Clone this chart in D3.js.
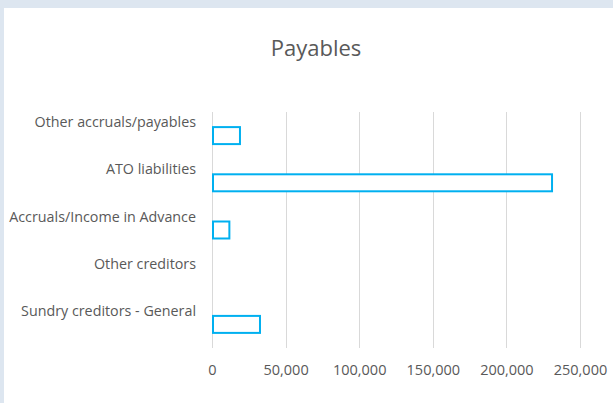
<!DOCTYPE html>
<html>
<head>
<meta charset="utf-8">
<script src="https://cdn.jsdelivr.net/npm/d3@7"></script>
<style>
  html, body { margin: 0; padding: 0; background: #dde6f0; }
  svg { display: block; }
  text { font-family: "Open Sans", sans-serif; fill: #595959; }
</style>
</head>
<body>
<div class="container"></div>
<script>
var categories = ["Other accruals/payables", "ATO liabilities", "Accruals/Income in Advance", "Other creditors", "Sundry creditors - General"];
var values = [19000, 231000, 11800, 0, 32600];
var xTicks = [0, 50000, 100000, 150000, 200000, 250000];
var title = "Payables";

const WIDTH = 613;
const HEIGHT = 403;

var svg, xScale, yScale;

var translate = function(x, y){
	return "translate(" + x + "," + y + ")";
};

var loadChart = function(){
	svg = d3.select('.container').append('svg')
		.attr('width', WIDTH)
		.attr('height', HEIGHT);

	// white chart panel inside the pale blue frame
	svg.append('rect')
		.attr('x', 4).attr('y', 8)
		.attr('width', WIDTH - 4).attr('height', HEIGHT - 8)
		.attr('fill', '#ffffff');

	svg.append('text')
		.attr('x', 316).attr('y', 47)
		.attr('text-anchor', 'middle')
		.attr('dominant-baseline', 'central')
		.style('font-size', '22px')
		.text(title);

	xScale = d3.scaleLinear()
		.domain([0, 250000])
		.range([212, 580]);

	yScale = d3.scaleBand()
		.domain(categories)
		.range([112, 348])
		.paddingInner(0.64)
		.paddingOuter(0.32);

	var grid = svg.append('g');
	grid.selectAll('line').data(xTicks)
		.enter().append('line')
		.attr('x1', function(d){ return Math.round(xScale(d)) + 0.5; })
		.attr('x2', function(d){ return Math.round(xScale(d)) + 0.5; })
		.attr('y1', 112).attr('y2', 348)
		.attr('stroke', '#d9d9d9')
		.attr('stroke-width', 1);

	var xAxis = d3.axisBottom(xScale)
		.tickValues(xTicks)
		.tickSize(0)
		.tickPadding(0)
		.tickFormat(d3.format(','));

	var gx = svg.append('g')
		.attr('transform', translate(0, 370))
		.call(xAxis);
	gx.select('.domain').remove();
	gx.selectAll('text')
		.attr('dy', '0.35em')
		.attr('y', 0)
		.style('font-family', '"Open Sans", sans-serif')
		.style('font-size', '14.5px')
		.style('fill', '#595959');

	var yAxis = d3.axisLeft(yScale)
		.tickSize(0)
		.tickPadding(0);

	var gy = svg.append('g')
		.attr('transform', translate(196, -13))
		.call(yAxis);
	gy.select('.domain').remove();
	gy.selectAll('text')
		.style('font-family', '"Open Sans", sans-serif')
		.style('font-size', '14.3px')
		.style('fill', '#595959');

	svg.append('g').selectAll('rect').data(values)
		.enter().append('rect')
		.attr('x', xScale(0) + 1)
		.attr('y', function(d, i){ return yScale(categories[i]); })
		.attr('width', function(d){ return Math.max(0, xScale(d) - xScale(0) - 1); })
		.attr('height', yScale.bandwidth())
		.attr('fill', '#ffffff')
		.attr('stroke', function(d){ return d > 0 ? '#00b0f0' : 'none'; })
		.attr('stroke-width', 2);
};

window.onload = loadChart;
</script>
</body>
</html>
